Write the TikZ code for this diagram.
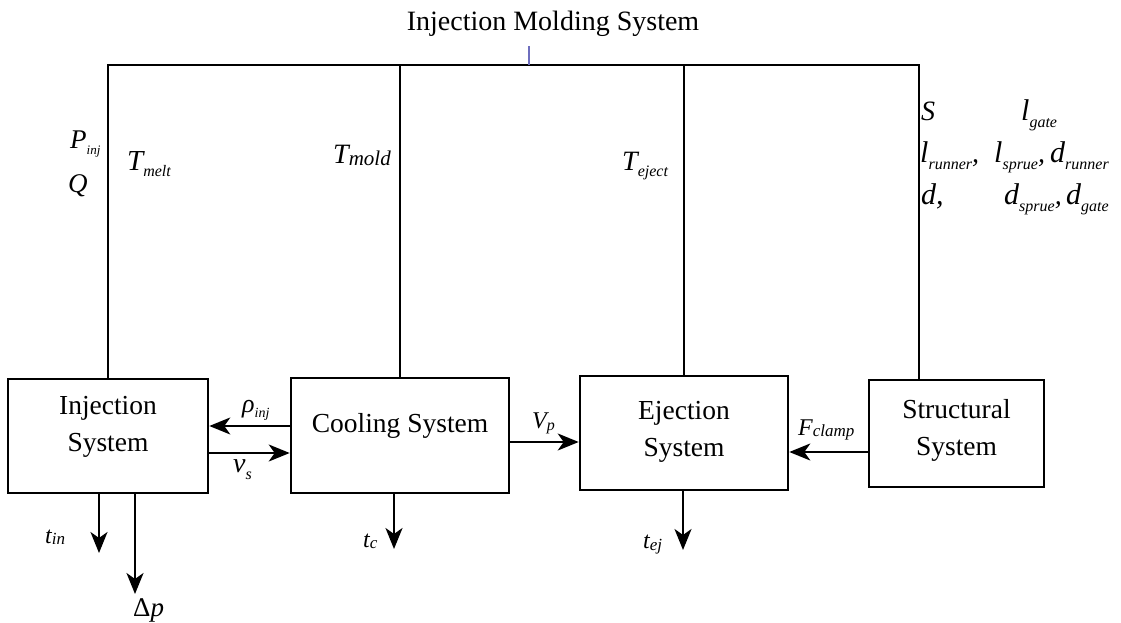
\documentclass[tikz,border=0pt]{standalone}
\usepackage{fontspec}
\setmainfont{Liberation Serif}
\usetikzlibrary{arrows.meta}
\newcommand{\lb}[5]{{\fontsize{#2}{#2}\selectfont\itshape #1}{\raisebox{-#5pt}{\fontsize{#4}{#4}\selectfont\itshape #3}}}
\newcommand{\bigit}[2]{{\fontsize{#2}{#2}\selectfont\itshape #1}}
\begin{document}
\begin{tikzpicture}[x=1pt,y=-1pt,
  box/.style={draw,line width=2.6pt,inner sep=0pt},
  btext/.style={align=center,inner sep=0pt,font=\fontsize{27.5}{37}\selectfont},
  wire/.style={line width=2.2pt},
  arr/.style={line width=2.3pt,-{Stealth[length=21pt,width=17pt,inset=6pt]}},
  lab/.style={anchor=base west,inner sep=0pt},
  tickc/.style={line width=1.5pt,draw={rgb,255:red,110;green,110;blue,190}}]
\useasboundingbox (0,0) rectangle (1121,623);
\node[btext,anchor=base] (title) at (553,31) {\fontsize{28}{32}\selectfont Injection Molding System};
% boxes
\node[box,minimum width=200pt,minimum height=114pt] (inj) at (108,436) {};
\node[box,minimum width=218pt,minimum height=115pt] (cool) at (400,435.5) {};
\node[box,minimum width=208pt,minimum height=114pt] (ejec) at (684,433) {};
\node[box,minimum width=175pt,minimum height=107pt] (struc) at (956.5,433.5) {};
\node[btext] (injt) at (108,427) {Injection\\System};
\node[btext] (coolt) at (400,425.5) {Cooling System};
\node[btext] (eject) at (684,432) {Ejection\\System};
\node[btext] (struct) at (956.5,430) {Structural\\System};
% top bus
\coordinate (tl) at (108,65);
\coordinate (tr) at (919,65);
\coordinate (tick) at (529,65);
\coordinate (tickt) at (529,46);
\draw[wire] (inj.north) -- (inj.north |- tl) -- (tr) -- (tr |- struc.north);
\draw[wire] (cool.north) -- (cool.north |- tl);
\draw[wire] (ejec.north) -- (ejec.north |- tl);
\draw[tickc] (tick) -- (tickt);
% horizontal arrows
\draw[arr] (cool.west |- 0,426) -- (inj.east |- 0,426);
\draw[arr] (inj.east |- 0,453) -- (cool.west |- 0,453);
\draw[arr] (cool.east |- 0,442) -- (ejec.west |- 0,442);
\draw[arr] (struc.west |- 0,452) -- (ejec.east |- 0,452);
% outputs
\coordinate (tinend) at (99,553);
\coordinate (dpend) at (135,594);
\coordinate (tcend) at (394,549);
\coordinate (tejend) at (683,550);
\draw[arr] (inj.south -| tinend) -- (tinend);
\draw[arr] (inj.south -| dpend) -- (dpend);
\draw[arr] (cool.south -| tcend) -- (tcend);
\draw[arr] (ejec.south -| tejend) -- (tejend);
% labels
\node[lab] (pinj) at (70,148) {\lb{P}{27}{inj}{13}{6}};
\node[lab] (q) at (68,192) {\bigit{Q}{27}};
\node[lab] (tmelt) at (127,170) {\lb{T}{29}{melt}{16}{6}};
\node[lab] (tmold) at (333,163) {\lb{T}{28}{mold}{21}{2}};
\node[lab] (teject) at (622,170) {\lb{T}{28}{eject}{16}{6}};
% structural parameters
\node[lab] (s) at (921,121) {\bigit{S}{28}};
\node[lab] (lgate) at (1021,121) {\lb{l}{30}{gate}{16}{7}};
\node[lab] (lrun) at (920,162) {\lb{l}{30}{runner}{16}{7}\bigit{,}{28}};
\node[lab] (lspr) at (994,162) {\lb{l}{30}{sprue}{16}{7}\bigit{,}{28}};
\node[lab] (drun) at (1050,162) {\lb{d}{30}{runner}{16}{7}};
\node[lab] (dd) at (921,204) {\bigit{d,}{30}};
\node[lab] (dspr) at (1004,204) {\lb{d}{30}{sprue}{16}{7}\bigit{,}{28}};
\node[lab] (dgate) at (1066,204) {\lb{d}{30}{gate}{16}{7}};
% flow labels
\node[lab] (rho) at (242,412) {\lb{ρ}{26}{inj}{14}{5}};
\node[lab] (vs) at (233,472) {\lb{v}{28}{s}{16}{7}};
\node[lab] (vp) at (532,428) {\lb{V}{24}{p}{16}{2}};
\node[lab] (fcl) at (798,435) {\lb{F}{24}{clamp}{17}{1}};
\node[lab] (tin) at (45,543) {\lb{t}{24}{in}{17}{1}};
\node[lab] (dp) at (133,616) {{\fontsize{27}{27}\selectfont Δ\itshape p}};
\node[lab] (tc) at (363,547) {\lb{t}{24}{c}{17}{1}};
\node[lab] (tej) at (643,548) {\lb{t}{24}{ej}{17}{2}};
\end{tikzpicture}
\end{document}
